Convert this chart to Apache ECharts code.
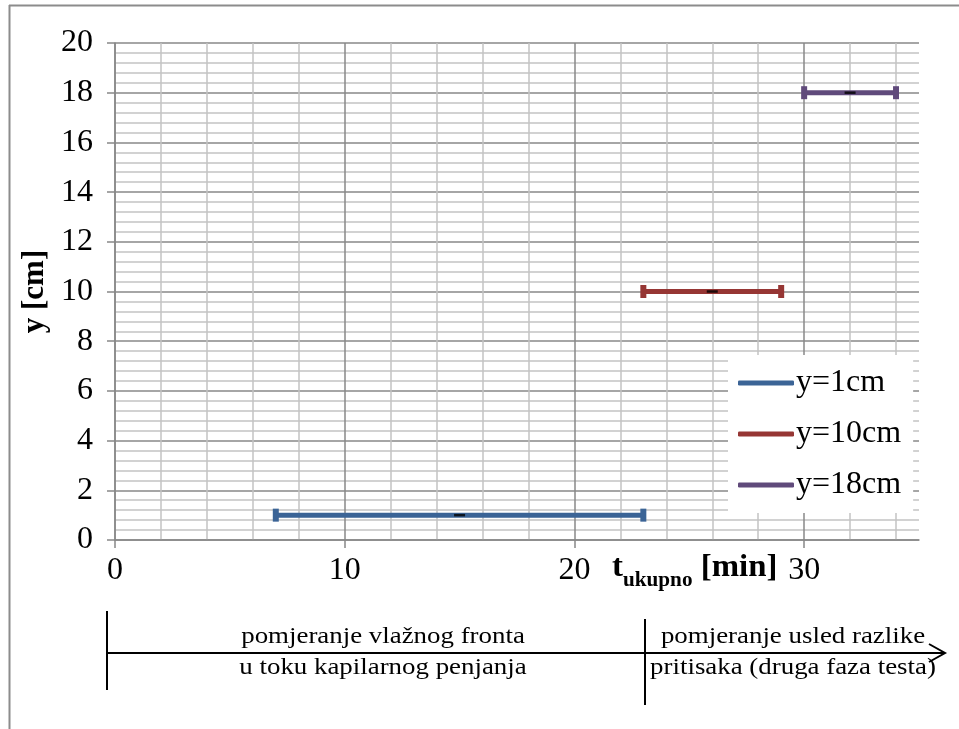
<!DOCTYPE html>
<html><head><meta charset="utf-8">
<script src="https://cdn.jsdelivr.net/npm/echarts@6/dist/echarts.min.js"></script>
<style>html,body{margin:0;padding:0;background:#fff}#c{width:959px;height:729px}</style>
</head><body><div id="c"></div>
<script>
const seriesNames = ['y=1cm', 'y=10cm', 'y=18cm'];
const yLevels = [1, 10, 18];
const tCenter = [15, 26, 32];
const tError = [8, 3, 2];
const xLabelValues = [0, 10, 20, 30];
const colors = ['#3B6496', '#963634', '#604A7B'];

const FONT = '"Liberation Serif", "Times New Roman", serif';
const MAJOR = '#888888', MINOR = '#c3c3c3';

// vertical grid line colours: every 2 min, darker every 10, none at the 35 edge
const xGridColors = [];
for (let v = 0; v <= 34; v += 2) xGridColors.push(v % 10 === 0 ? MAJOR : MINOR);
xGridColors.push('rgba(0,0,0,0)');

const series = [];
seriesNames.forEach((n, i) => {
  series.push({
    name: n, type: 'line', xAxisIndex: 0, yAxisIndex: 0,
    data: [[tCenter[i] - tError[i], yLevels[i]], [tCenter[i] + tError[i], yLevels[i]]],
    lineStyle: {color: colors[i], width: 5},
    itemStyle: {color: colors[i]},
    symbol: 'rect', symbolSize: [6, 13], showSymbol: true, z: 3, animation: false
  });
});
series.push({
  name: 'center', type: 'scatter', xAxisIndex: 0, yAxisIndex: 0,
  data: tCenter.map((t, i) => [t, yLevels[i]]),
  symbol: 'rect', symbolSize: [11, 2.5], itemStyle: {color: '#000'}, z: 4, animation: false
});

const annoText = (x, y, t) => ({
  type: 'text', x: x, y: y, scaleX: 1.12,
  style: {text: t, font: '24px ' + FONT, fill: '#000', textAlign: 'center', textVerticalAlign: 'middle'}
});

const chart = echarts.init(document.getElementById('c'));
chart.setOption({
  animation: false,
  grid: {left: 115, top: 43, right: 40, bottom: 189, containLabel: false},
  xAxis: [{
    type: 'value', min: 0, max: 35, interval: 2,
    axisLine: {show: true, lineStyle: {color: MAJOR, width: 1.5}},
    axisTick: {show: false}, axisLabel: {show: false},
    splitLine: {show: true, lineStyle: {color: xGridColors, width: 1.5}}
  }, {
    type: 'value', min: 0, max: 35, interval: 10, position: 'bottom',
    axisLine: {show: false},
    axisTick: {show: true, length: 8, customValues: xLabelValues, lineStyle: {color: MAJOR, width: 1.5}},
    axisLabel: {show: true, customValues: xLabelValues, margin: 15, fontFamily: FONT, fontSize: 32, color: '#000',
      formatter: v => (v % 10 === 0 ? String(v) : '')},
    splitLine: {show: false}
  }],
  yAxis: [{
    type: 'value', min: 0, max: 20, interval: 2,
    name: 'y [cm]', nameLocation: 'middle', nameGap: 63, nameRotate: 90,
    nameTextStyle: {fontFamily: FONT, fontSize: 31, fontWeight: 'bold', color: '#000'},
    axisLine: {show: true, lineStyle: {color: MAJOR, width: 1.5}},
    axisTick: {show: true, length: 8, lineStyle: {color: MAJOR, width: 1.5}},
    axisLabel: {fontFamily: FONT, fontSize: 32, color: '#000', margin: 22},
    splitLine: {show: true, lineStyle: {color: MAJOR, width: 1.5}},
    minorTick: {show: false, splitNumber: 5},
    minorSplitLine: {show: true, lineStyle: {color: MINOR, width: 1.5}}
  }],
  legend: {
    data: seriesNames.map(n => ({name: n, icon: 'roundRect'})),
    orient: 'vertical', left: 728, top: 355,
    backgroundColor: '#fff', padding: [12, 12, 12, 10],
    itemWidth: 56, itemHeight: 5, itemGap: 19,
    textStyle: {fontFamily: FONT, fontSize: 32, color: '#000', lineHeight: 32, padding: [0, 0, 0, -3]},
    selectedMode: false
  },
  series: series,
  graphic: [
    {type: 'line', shape: {x1: 9.5, y1: 5, x2: 9.5, y2: 729}, style: {stroke: '#8c8c8c', lineWidth: 2}},
    {type: 'line', shape: {x1: 9, y1: 5.5, x2: 959, y2: 5.5}, style: {stroke: '#8c8c8c', lineWidth: 2}},
    {type: 'text', x: 612, y: 583, scaleX: 1.06, style: {
      text: '{t|t}{s|ukupno}{t| [min]}', textVerticalAlign: 'bottom',
      rich: {
        t: {fontFamily: FONT, fontSize: 31, fontWeight: 'bold', fill: '#000', verticalAlign: 'bottom'},
        s: {fontFamily: FONT, fontSize: 20, fontWeight: 'bold', fill: '#000', verticalAlign: 'bottom', padding: [0, 0, -8, 0]}
      }}},
    {type: 'line', shape: {x1: 107, y1: 611, x2: 107, y2: 690}, style: {stroke: '#000', lineWidth: 2}},
    {type: 'line', shape: {x1: 645, y1: 619, x2: 645, y2: 705}, style: {stroke: '#000', lineWidth: 2}},
    {type: 'line', shape: {x1: 107, y1: 653, x2: 945, y2: 653}, style: {stroke: '#000', lineWidth: 2}},
    {type: 'polyline', shape: {points: [[929, 644], [945, 653], [929, 662]]}, style: {stroke: '#000', lineWidth: 2, fill: null}},
    annoText(383, 637, 'pomjeranje vlažnog fronta'),
    annoText(383, 668, 'u toku kapilarnog penjanja'),
    annoText(793, 637, 'pomjeranje usled razlike'),
    annoText(793, 668, 'pritisaka (druga faza testa)')
  ]
});
</script>
</body></html>
